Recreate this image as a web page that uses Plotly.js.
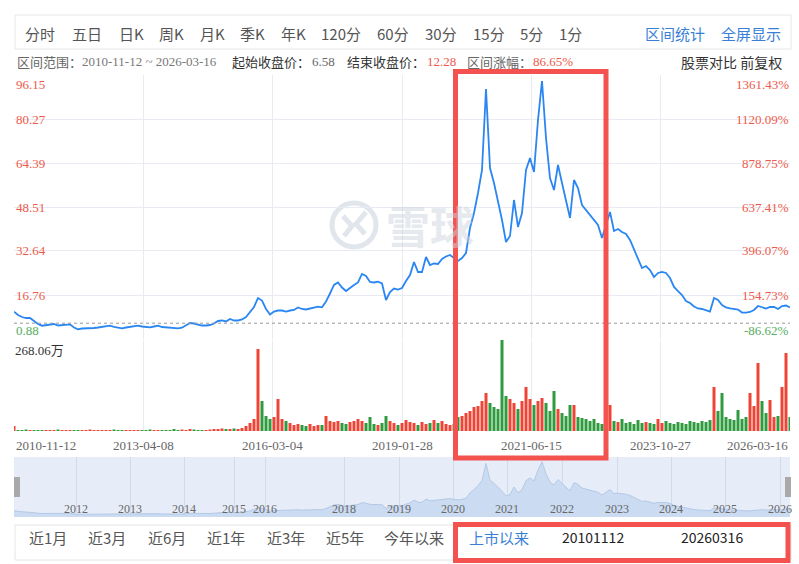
<!DOCTYPE html>
<html><head><meta charset="utf-8">
<script src="https://cdn.plot.ly/plotly-3.0.1.min.js"></script>
<style>html,body{margin:0;padding:0;background:#fff;} #chart{width:799px;height:564px;}</style>
</head><body><div id="chart"></div>
<script>
// ---------- data ----------
const closePrices = [
 10.73, 9.54, 8.82, 8.46, 8.46, 7.38, 6.29, 5.68, 5.93, 6.11,
 6.29, 5.75, 5.93, 5.93, 6.18, 5.03, 4.38, 4.67, 4.67, 4.74,
 4.85, 5.03, 5.32, 5.39, 5.68, 5.28, 5.03, 4.74, 5.03, 5.32,
 5.57, 5.68, 5.39, 5.21, 5.10, 5.39, 5.68, 5.21, 5.03, 4.96,
 4.85, 4.74, 4.96, 5.75, 6.65, 6.47, 6.11, 5.75, 5.75, 5.93,
 6.47, 7.38, 7.56, 7.20, 8.10, 7.56, 7.56, 7.92, 8.82, 10.44,
 12.43, 15.68, 14.77, 11.71, 9.72, 10.80, 11.16, 11.16, 10.80, 11.16,
 11.35, 12.25, 11.71, 11.53, 11.96, 12.25, 12.54, 12.32, 14.41, 17.30,
 20.37, 21.27, 19.46, 18.20, 19.46, 20.37, 21.27, 24.34, 23.61, 21.45,
 21.27, 21.56, 20.91, 14.95, 17.84, 19.10, 18.74, 19.28, 21.81, 23.98,
 28.67, 25.06, 25.06, 30.47, 27.58, 28.13, 27.95, 29.75, 30.65, 31.19,
 30.11, 29.03, 30.11, 31.91, 40.94, 46.35, 53.57, 61.87, 91.10, 62.59,
 57.18, 51.04, 43.82, 35.88, 38.05, 51.04, 41.30, 46.35, 61.87, 66.20,
 61.15, 79.91, 93.98, 73.41, 58.98, 54.65, 63.67, 57.18, 50.68, 44.55,
 58.26, 55.37, 49.24, 47.43, 45.99, 44.18, 42.02, 37.33, 42.02, 46.71,
 39.85, 40.58, 39.49, 38.77, 36.61, 33.00, 29.75, 26.50, 27.22, 25.78,
 23.25, 24.70, 25.06, 24.70, 22.89, 19.65, 18.20, 16.76, 14.59, 13.87,
 12.61, 11.89, 11.71, 11.16, 10.80, 15.68, 14.95, 13.15, 12.25, 11.96,
 11.71, 11.53, 10.44, 10.37, 10.62, 11.35, 12.79, 12.43, 11.89, 12.43,
 12.43, 11.71, 12.79, 12.97, 12.28
];
// volume in 万
const volumes = [
 14.7, 2.9, 2.9, 4.4, 2.9, 2.9, 2.9, 2.9, 2.9, 2.9,
 2.9, 4.4, 2.9, 2.9, 2.9, 2.9, 2.9, 2.9, 2.9, 4.4,
 2.9, 2.9, 2.9, 2.9, 2.9, 4.4, 2.9, 2.9, 2.9, 2.9,
 2.9, 2.9, 2.9, 2.9, 4.4, 2.9, 2.9, 2.9, 2.9, 2.9,
 5.9, 2.9, 4.4, 2.9, 5.9, 4.4, 2.9, 2.9, 2.9, 4.4,
 5.9, 5.9, 7.4, 5.9, 5.9, 7.4, 5.9, 8.8, 14.7, 23.6,
 35.4, 241.6, 88.4, 44.2, 35.4, 41.2, 94.3, 35.4, 29.5, 23.6,
 17.7, 20.6, 17.7, 14.7, 20.6, 14.7, 17.7, 17.7, 44.2, 29.5,
 26.5, 29.5, 23.6, 20.6, 26.5, 29.5, 35.4, 29.5, 23.6, 41.2,
 20.6, 17.7, 23.6, 44.2, 29.5, 23.6, 17.7, 23.6, 32.4, 26.5,
 23.6, 17.7, 26.5, 20.6, 23.6, 32.4, 23.6, 29.5, 20.6, 17.7,
 20.6, 41.2, 44.2, 53.0, 58.9, 70.7, 73.7, 88.4, 112.0, 82.5,
 70.7, 64.8, 268.06, 103.1, 94.3, 82.5, 64.8, 88.4, 129.6, 94.3,
 76.6, 88.4, 97.2, 82.5, 58.9, 117.8, 64.8, 53.0, 44.2, 76.6,
 76.6, 41.2, 38.3, 35.4, 29.5, 35.4, 23.6, 20.6, 35.4, 76.6,
 29.5, 26.5, 35.4, 23.6, 26.5, 20.6, 32.4, 23.6, 26.5, 23.6,
 20.6, 35.4, 23.6, 29.5, 23.6, 20.6, 26.5, 23.6, 20.6, 29.5,
 26.5, 23.6, 29.5, 26.5, 32.4, 129.6, 58.9, 112.0, 41.2, 35.4,
 32.4, 61.9, 35.4, 41.2, 112.0, 73.7, 200.3, 88.4, 53.0, 91.3,
 41.2, 44.2, 129.6, 229.8, 41.2
];
const dateTickLabels = ['2010-11-12','2013-04-08','2016-03-04','2019-01-28','2021-06-15','2023-10-27','2026-03-16'];
const priceTickLabels = ['0.88','16.76','32.64','48.51','64.39','80.27','96.15'];
const pctTickLabels = ['-86.62%','154.73%','396.07%','637.41%','878.75%','1120.09%','1361.43%'];
const navYears = ['2012','2013','2014','2015','2016','2018','2019','2020','2021','2022','2023','2024','2025','2026'];
const navYearIdx = [15.5, 29, 42.5, 55, 62.75, 82.5, 96.25, 109.75, 123.25, 137, 150.75, 164.25, 177.75, 191.5];
const toolbarItems = ['分时','五日','日K','周K','月K','季K','年K','120分','60分','30分','15分','5分','1分'];
const toolbarRight = ['区间统计','全屏显示'];
const rangeButtons = ['近1月','近3月','近6月','近1年','近3年','近5年','今年以来'];
const startDate = '2010-11-12', endDate = '2026-03-16';
const startClose = 6.58, endClose = 12.28, changePct = '86.65%';
const volMax = 268.06;

// ---------- layout helpers ----------
const W = 799, H = 564;
const px = x => x / W;
const py = y => 1 - y / H;
const N = closePrices.length;
const idx = closePrices.map((_, i) => i);
const serif = '"Liberation Serif", "Times New Roman", "Noto Sans CJK SC", serif';
const sans = '"Noto Sans CJK SC", "Noto Sans", sans-serif';
const RED = '#ee5a4b', GREEN = '#55ad5c', BLUE_TXT = '#3a7fd6';
const upColor = '#ee4436', downColor = '#2e9b3e';
const volColors = volumes.map((v, i) => (i === 0 || closePrices[i] >= closePrices[i - 1]) ? upColor : downColor);

const traces = [
  {x: idx, y: closePrices, type: 'scatter', mode: 'lines', line: {color: '#2a86f2', width: 1.8},
   xaxis: 'x', yaxis: 'y', hoverinfo: 'skip'},
  {x: idx, y: volumes, type: 'bar', marker: {color: volColors, line: {width: 0}},
   xaxis: 'x', yaxis: 'y2', hoverinfo: 'skip'},
  {x: idx, y: closePrices, type: 'scatter', mode: 'lines', fill: 'tozeroy', fillcolor: '#cadbf2',
   line: {color: '#b4c9e7', width: 1}, xaxis: 'x3', yaxis: 'y3', hoverinfo: 'skip'}
];

const ann = [];
function txt(x, y, text, opts) {
  ann.push(Object.assign({x: px(x), y: py(y), xref: 'paper', yref: 'paper', text: text, showarrow: false,
    xanchor: 'left', yanchor: 'middle', font: {family: sans, size: 15, color: '#555'}}, opts || {}));
}
// toolbar
const toolbarX = [23, 70, 117, 157, 198, 238, 279, 319, 375, 423, 471, 518, 557];
toolbarItems.forEach((t, i) => txt(toolbarX[i], 33, t));
const toolbarRightX = [643, 719];
toolbarRight.forEach((t, i) => txt(toolbarRightX[i], 33, t, {font: {family: sans, size: 15, color: BLUE_TXT}}));
// info row
txt(15, 62, '区间范围：', {font: {family: sans, size: 13, color: '#666'}});
txt(80, 62, startDate + ' ~ ' + endDate, {font: {family: serif, size: 13, color: '#777'}});
txt(230, 62, '起始收盘价：', {font: {family: sans, size: 13, color: '#333'}});
txt(310, 62, startClose.toFixed(2), {font: {family: serif, size: 13, color: '#666'}});
txt(345, 62, '结束收盘价：', {font: {family: sans, size: 13, color: '#333'}});
txt(425, 62, endClose.toFixed(2), {font: {family: serif, size: 13, color: RED}});
txt(465, 62, '区间涨幅：', {font: {family: sans, size: 13, color: '#666'}});
txt(531, 62, changePct, {font: {family: serif, size: 13, color: RED}});
txt(784, 62, '股票对比 前复权', {xanchor: 'right', font: {family: sans, size: 14, color: '#333'}});
// price axis labels (left) and percent labels (right)
priceTickLabels.forEach((t, k) => {
  const last = k === priceTickLabels.length - 1;
  const shift = k === 0 ? 9 : (last ? -9 : 0);
  const col = k === 0 ? GREEN : RED;
  ann.push({x: px(14), xref: 'paper', y: Number(t), yref: 'y', yshift: shift, text: t, showarrow: false,
    xanchor: 'left', yanchor: 'middle', font: {family: serif, size: 13, color: col}});
  ann.push({x: px(791), xref: 'paper', y: Number(t), yref: 'y', yshift: shift, text: pctTickLabels[k], showarrow: false,
    xanchor: 'right', yanchor: 'middle', font: {family: serif, size: 13, color: col}});
});
// volume max label
txt(13, 350, volMax.toFixed(2) + '万', {font: {family: serif, size: 13, color: '#333'}});
// date labels
const dateTickVals = dateTickLabels.map((_, k) => k * (N - 1) / (dateTickLabels.length - 1));
dateTickLabels.forEach((t, k) => {
  ann.push({x: dateTickVals[k], xref: 'x', y: py(445), yref: 'paper', text: t, showarrow: false,
    xanchor: k === 0 ? 'left' : (k === dateTickLabels.length - 1 ? 'right' : 'center'), yanchor: 'middle',
    font: {family: serif, size: 13, color: '#666'}});
});
// navigator year labels
navYears.forEach((t, k) => {
  ann.push({x: navYearIdx[k], xref: 'x3', y: py(509), yref: 'paper', text: t, showarrow: false,
    xanchor: 'center', yanchor: 'middle', font: {family: serif, size: 12, color: '#666'}});
});
// bottom range buttons
const rangeX = [27, 86, 146, 205, 265, 324, 382];
rangeButtons.forEach((t, i) => txt(rangeX[i], 537, t));
txt(467, 537, '上市以来', {font: {family: sans, size: 15, color: BLUE_TXT}});
txt(560, 537, startDate.replace(/-/g, ''), {font: {family: sans, size: 14, color: '#222'}});
txt(679, 537, endDate.replace(/-/g, ''), {font: {family: sans, size: 14, color: '#222'}});
// watermark
txt(430, 225, '雪球', {xanchor: 'center', font: {family: sans, size: 44, color: 'rgba(205,211,222,0.5)', weight: 'bold'}});

const P = (x, y) => px(x) + ',' + py(y);
const shapes = [
  {type: 'rect', xref: 'paper', yref: 'paper', x0: px(15), x1: px(791), y0: py(15), y1: py(49), line: {color: '#e6e6e6', width: 1}},
  {type: 'rect', xref: 'paper', yref: 'paper', x0: px(15), x1: px(791), y0: py(525), y1: py(560), line: {color: '#e6e6e6', width: 1}},
  {type: 'rect', xref: 'paper', yref: 'paper', x0: px(14), x1: px(790), y0: py(517), y1: py(457), layer: 'below',
   fillcolor: '#e7edf8', line: {width: 0}},
  {type: 'circle', xref: 'paper', yref: 'paper', x0: px(332), x1: px(376), y0: py(247), y1: py(203), layer: 'below',
   line: {color: '#e1e5ec', width: 5}},
  {type: 'path', xref: 'paper', yref: 'paper', layer: 'below', line: {color: '#e1e5ec', width: 5},
   path: 'M' + P(343, 216) + ' L' + P(352, 226) + ' L' + P(344, 236) + ' M' + P(366, 212) + ' L' + P(356, 224) + ' L' + P(365, 234)},
  {type: 'line', xref: 'paper', yref: 'y', x0: px(14), x1: px(790), y0: startClose, y1: startClose,
   line: {color: '#999', width: 1, dash: '3px,3px'}},
  {type: 'rect', xref: 'paper', yref: 'paper', x0: px(14), x1: px(20), y0: py(497), y1: py(477), fillcolor: '#a9a9a9', line: {width: 0}},
  {type: 'rect', xref: 'paper', yref: 'paper', x0: px(785), x1: px(791), y0: py(497), y1: py(477), fillcolor: '#a9a9a9', line: {width: 0}},
  {type: 'rect', xref: 'paper', yref: 'paper', x0: px(455.5), x1: px(606), y0: py(458), y1: py(71.5), line: {color: '#f4524f', width: 5}},
  {type: 'rect', xref: 'paper', yref: 'paper', x0: px(455.5), x1: px(788), y0: py(560.5), y1: py(524.5), line: {color: '#f4524f', width: 5}}
];

const layout = {
  width: W, height: H, margin: {l: 0, r: 0, t: 0, b: 0}, showlegend: false,
  paper_bgcolor: '#ffffff', plot_bgcolor: 'rgba(0,0,0,0)', bargap: 0.25,
  xaxis: {domain: [px(14), px(790)], range: [0, N - 1], tickvals: dateTickVals, showticklabels: false, ticks: '',
          showgrid: true, gridcolor: '#e8ebf1', zeroline: false, showline: false, anchor: 'y'},
  yaxis: {domain: [py(339), py(75)], range: [Number(priceTickLabels[0]), Number(priceTickLabels[6])],
          tickvals: priceTickLabels.map(Number), showticklabels: false, ticks: '',
          showgrid: true, gridcolor: '#e8ebf1', zeroline: false, showline: false, anchor: 'x'},
  yaxis2: {domain: [py(431), py(340)], range: [0, volMax], showgrid: false, showticklabels: false, ticks: '',
           zeroline: false, showline: false, anchor: 'x'},
  xaxis3: {domain: [px(14), px(790)], range: [0, N - 1], tickvals: navYearIdx, showticklabels: false, ticks: '',
           showgrid: true, gridcolor: '#d2dbe9', zeroline: false, showline: false, anchor: 'y3'},
  yaxis3: {domain: [py(517), py(457)], range: [0, 102], showgrid: false, showticklabels: false, ticks: '',
           zeroline: false, showline: false, anchor: 'x3'},
  annotations: ann, shapes: shapes
};
Plotly.newPlot('chart', traces, layout, {staticPlot: true, displayModeBar: false});
</script>
</body></html>
